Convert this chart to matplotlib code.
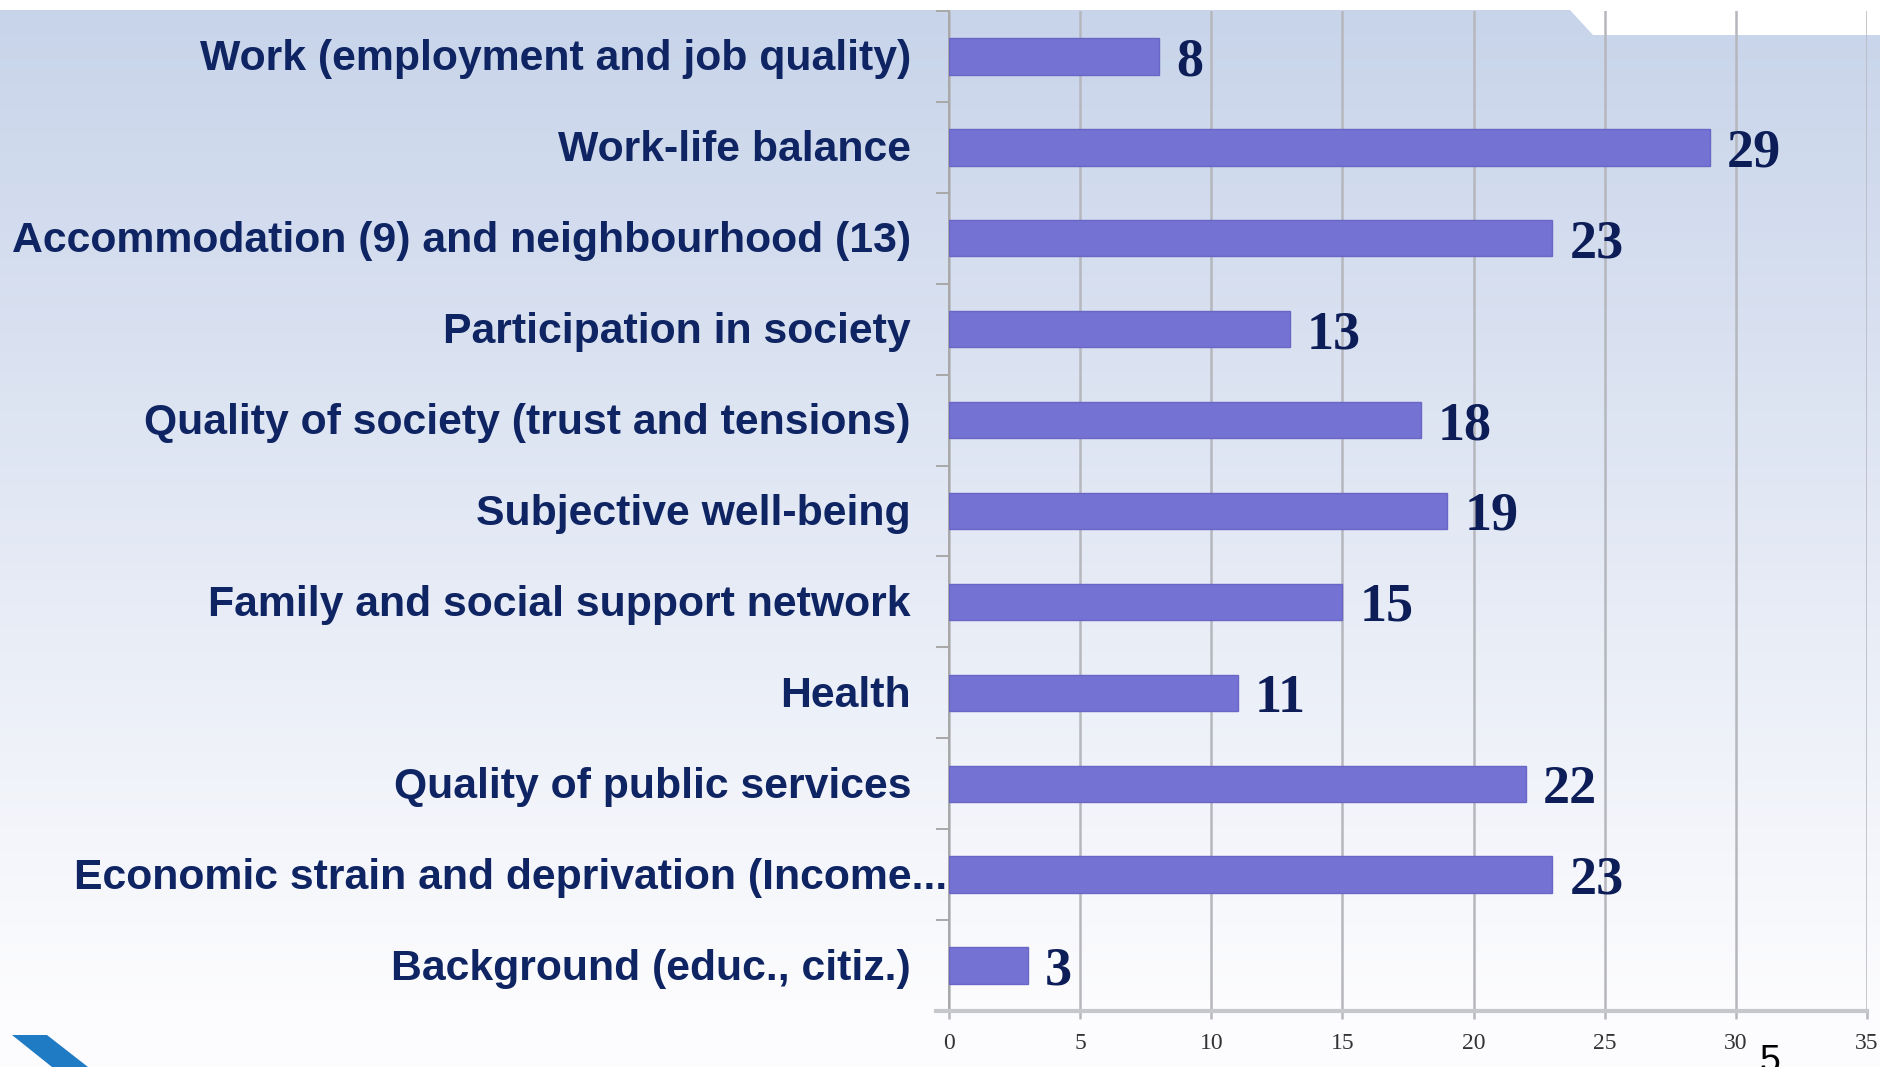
import numpy as np
import matplotlib
matplotlib.use("Agg")
from matplotlib import pyplot as plt, patches as mpatches
from matplotlib.transforms import offset_copy

categories = [
    "Work (employment and job quality)",
    "Work-life balance",
    "Accommodation (9) and neighbourhood (13)",
    "Participation in society",
    "Quality of society (trust and tensions)",
    "Subjective well-being",
    "Family and social support network",
    "Health",
    "Quality of public services",
    "Economic strain and deprivation (Income...",
    "Background (educ., citiz.)",
]
counts = [8, 29, 23, 13, 18, 19, 15, 11, 22, 23, 3]
xticks = [0, 5, 10, 15, 20, 25, 30, 35]
page_number = "5"

W, H = 1880, 1067
fig = plt.figure(figsize=(W / 100, H / 100), dpi=100)

# slide background: vertical blue-to-white fade with a white top strip and notch
bg = fig.add_axes([0, 0, 1, 1], zorder=0)
bg.set_xlim(0, W)
bg.set_ylim(H, 0)
bg.axis("off")
top = np.array([200, 212, 234]) / 255
bot = np.array([252, 252, 254]) / 255
t = np.clip((np.arange(H) - 10) / 990, 0, 1)[:, None]
grad = top * (1 - t) + bot * t
bg.imshow(np.repeat(grad[:, None, :], 2, axis=1), extent=(0, W, H, 0), aspect="auto")
bg.add_patch(mpatches.Polygon([(0, 0), (W, 0), (W, 35), (1593, 35), (1570, 10), (0, 10)],
                              closed=True, color="white", lw=0))
bg.add_patch(mpatches.Polygon([(12, 1035), (47, 1035), (88, 1067), (52, 1067)],
                              closed=True, color="#1f7bc4", lw=0))

ax = fig.add_axes([949 / W, 1 - 1011 / H, (1867 - 949) / W, (1011 - 11) / H], zorder=1)
ax.patch.set_alpha(0)

y = np.arange(len(categories))
ax.barh(y, counts, height=0.40, color="#7472d2", edgecolor="#6966c6", linewidth=1, zorder=3)

ax.set_xlim(0, 35)
ax.set_ylim(len(categories) - 0.5, -0.5)
ax.set_xticks(xticks)
ax.set_xticklabels([str(v) for v in xticks], family="Liberation Serif", fontsize=17, color="#333333")
ax.set_yticks(y)
ax.set_yticklabels([])
ax.set_yticks(np.arange(len(categories) + 1) - 0.5, minor=True)
ax.tick_params(axis="y", which="major", length=0)
ax.tick_params(axis="y", which="minor", length=9.5, width=1.4, color="#a8a8a8", direction="out")
ax.tick_params(axis="x", length=6, width=1.8, color="#b5b7bd", pad=10)
ax.grid(axis="x", color="#b5b7bd", linewidth=1.8, zorder=1)
ax.set_axisbelow(True)

for s in ("top", "right"):
    ax.spines[s].set_visible(False)
ax.spines["left"].set_color("#a8a8a8")
ax.spines["left"].set_linewidth(1.4)
ax.spines["bottom"].set_color("#c6c7cb")
ax.spines["bottom"].set_linewidth(3)
ax.spines["bottom"].set_bounds(-0.5, 35)

# category names, right aligned left of the axis
for i, name in enumerate(categories):
    dx = -2 if name.endswith("...") else -38
    tr = offset_copy(ax.get_yaxis_transform(), fig, x=dx, y=-14, units="dots")
    ax.text(0, i, name, transform=tr, ha="right", va="baseline", fontsize=30.8,
            fontweight="bold", family="Liberation Sans", color="#0f2462", zorder=5)

# count at the end of every bar
tr_val = offset_copy(ax.transData, fig, x=17, y=-19, units="dots")
for i, v in enumerate(counts):
    ax.text(v, i, str(v), transform=tr_val, ha="left", va="baseline", fontsize=39,
            fontweight="bold", family="Liberation Serif", color="#0d1d58", zorder=5)

fig.text(1760 / W, 1 - 1072 / H, page_number, fontsize=27, family="Liberation Sans",
         color="black", ha="left", va="baseline", zorder=5)

fig.savefig("out.png", dpi=100)
